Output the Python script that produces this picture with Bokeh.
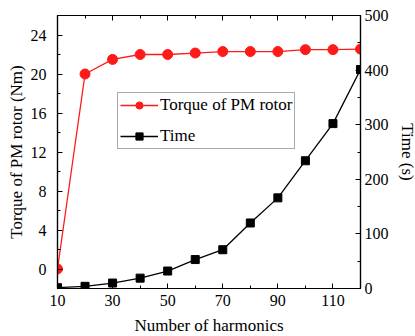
from bokeh.plotting import figure
from bokeh.models import (LinearAxis, Range1d, FixedTicker, Legend, LegendItem)
from bokeh.embed import file_html
from bokeh.resources import INLINE

# Harmonic count vs. computed torque and solve time
harmonics = [10, 20, 30, 40, 50, 60, 70, 80, 90, 100, 110, 120]
torque_nm = [0.0, 20.0, 21.5, 22.0, 22.0, 22.15, 22.3, 22.3, 22.3, 22.5, 22.5, 22.55]
time_s = [1.5, 4, 10, 19, 32, 53, 71, 120, 166, 234, 302, 401]

x_ticks = [10, 30, 50, 70, 90, 110]
x_minor = [20, 40, 60, 80, 100, 120]
torque_ticks = [0, 4, 8, 12, 16, 20, 24]
torque_minor = [-2, 2, 6, 10, 14, 18, 22, 26]
time_ticks = [0, 100, 200, 300, 400, 500]
time_minor = [50, 150, 250, 350, 450]

FONT = "'Liberation Serif', 'Times New Roman', serif"

p = figure(frame_width=303, frame_height=273, output_backend="svg",
           toolbar_location=None, x_range=Range1d(10, 120),
           y_range=Range1d(-2, 26),
           min_border_left=57, min_border_right=54,
           min_border_top=15, min_border_bottom=48)
p.extra_y_ranges = {"time": Range1d(0, 500)}
p.xgrid.visible = False
p.ygrid.visible = False
p.outline_line_color = "black"
p.outline_line_width = 1.2
p.background_fill_color = "white"
p.border_fill_color = "white"


def style_axis(ax, ticks, minor, standoff):
    ax.ticker = FixedTicker(ticks=ticks, minor_ticks=minor)
    ax.axis_line_color = "black"
    ax.axis_line_width = 1.2
    ax.major_tick_in = 5
    ax.major_tick_out = 0
    ax.minor_tick_in = 3
    ax.minor_tick_out = 0
    ax.major_tick_line_color = "black"
    ax.minor_tick_line_color = "black"
    ax.major_label_text_font = FONT
    ax.major_label_text_font_size = "16px"
    ax.major_label_text_color = "black"
    ax.major_label_standoff = standoff
    ax.axis_label_text_font = FONT
    ax.axis_label_text_font_size = "17px"
    ax.axis_label_text_font_style = "normal"
    ax.axis_label_text_color = "black"


xa = p.xaxis[0]
style_axis(xa, x_ticks, x_minor, 6)
xa.axis_label = "Number of harmonics"
xa.axis_label_standoff = 7

ya = p.yaxis[0]
style_axis(ya, torque_ticks, torque_minor, 11)
ya.axis_label = "Torque of PM rotor (Nm)"
ya.axis_label_standoff = 2

ra = LinearAxis(y_range_name="time")
style_axis(ra, time_ticks, time_minor, 4)
ra.axis_label = "Time (s)"
ra.axis_label_standoff = 6
p.add_layout(ra, "right")

# top edge: tick marks only, no labels
ta = LinearAxis()
style_axis(ta, x_ticks, x_minor, 0)
ta.major_label_overrides = {t: "" for t in x_ticks}
p.add_layout(ta, "above")

tl = p.line(harmonics, time_s, y_range_name="time", line_color="black",
            line_width=1.3)
ts = p.scatter(harmonics, time_s, y_range_name="time", marker="square",
               size=8, fill_color="black", line_color="black")
rl = p.line(harmonics, torque_nm, line_color="#ff1a1a", line_width=1.3)
rs = p.scatter(harmonics, torque_nm, marker="circle", size=10,
               fill_color="#ff1a1a", line_color="#ff1a1a")

legend = Legend(items=[
    LegendItem(label="Torque of PM rotor", renderers=[rl, rs]),
    LegendItem(label="Time", renderers=[tl, ts]),
], location=(60, 139))
legend.label_text_font = FONT
legend.label_text_font_size = "17px"
legend.label_text_color = "black"
legend.border_line_color = "#555555"
legend.border_line_width = 1
legend.padding = 2
legend.margin = 0
legend.spacing = 11
legend.glyph_width = 38
legend.glyph_height = 18
legend.label_height = 18
legend.label_standoff = 2
legend.background_fill_alpha = 1
p.add_layout(legend, "center")

open("out.html", "w").write(file_html(p, INLINE))
